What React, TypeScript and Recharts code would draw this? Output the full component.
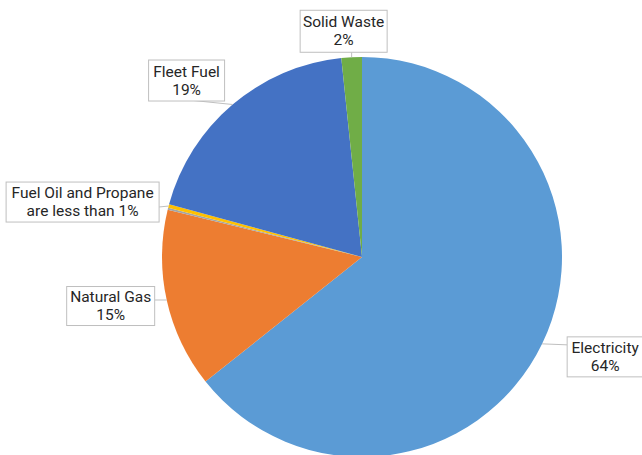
import React from "react";
import { PieChart, Pie, Cell } from "recharts";

const sources = ["Electricity", "Natural Gas", "Fuel Oil", "Propane", "Fleet Fuel", "Solid Waste"];
const shares = [64.3, 14.5, 0.15, 0.3, 19.1, 1.65];
const colors = ["#5B9BD5", "#ED7D31", "#A5A5A5", "#FFC000", "#4472C4", "#70AD47"];
const labelLines: (string[] | null)[] = [
  ["Electricity", "64%"],
  ["Natural Gas", "15%"],
  null,
  ["Fuel Oil and Propane", "are less than 1%"],
  ["Fleet Fuel", "19%"],
  ["Solid Waste", "2%"],
];

const data = sources.map((name, i) => ({ name, value: shares[i] }));

// label box layout: box centre offset from the slice edge point, box size, anchor on box
const labelBoxes: Record<string, { dx: number; dy: number; w: number; h: number; ax: number; ay: number }> = {
  Electricity: { dx: 63, dy: 13, w: 76, h: 40, ax: -38, ay: -12 },
  "Natural Gas": { dx: -56, dy: 6, w: 88, h: 39, ax: 44, ay: -6 },
  Propane: { dx: -86, dy: -4, w: 153, h: 40, ax: 76, ay: 5 },
  "Fleet Fuel": { dx: -46, dy: -24, w: 76, h: 41, ax: 7, ay: 20 },
  "Solid Waste": { dx: -8, dy: -26, w: 87, h: 42, ax: 8, ay: 21 },
};

const RAD = Math.PI / 180;

function renderLabel(props: any) {
  const { cx, cy, midAngle, outerRadius, index, name } = props;
  const lines = labelLines[index];
  const box = labelBoxes[name];
  if (!lines || !box) return null;
  const ex = cx + outerRadius * Math.cos(-midAngle * RAD);
  const ey = cy + outerRadius * Math.sin(-midAngle * RAD);
  const bx = ex + box.dx;
  const by = ey + box.dy;
  return (
    <g key={`lbl-${index}`}>
      <line x1={ex} y1={ey} x2={bx + box.ax} y2={by + box.ay} stroke="#bfbfbf" strokeWidth={1} />
      <rect x={bx - box.w / 2} y={by - box.h / 2} width={box.w} height={box.h} fill="#ffffff" stroke="#bfbfbf" strokeWidth={1} />
      {lines.map((t, k) => (
        <text
          key={k}
          x={bx}
          y={by - 9 + k * 18}
          textAnchor="middle"
          dominantBaseline="central"
          fill="#262626"
          fontSize={15.5}
          fontFamily="Roboto, sans-serif"
        >
          {t}
        </text>
      ))}
    </g>
  );
}

export default function App() {
  return (
    <div style={{ position: "absolute", left: 0, top: 0, width: 642, height: 455, background: "#fff" }}>
      <PieChart width={642} height={455} margin={{ top: 0, right: 0, bottom: 0, left: 0 }}>
        <Pie
          data={data}
          dataKey="value"
          nameKey="name"
          cx={362}
          cy={257}
          outerRadius={200}
          startAngle={90}
          endAngle={-270}
          stroke="none"
          label={renderLabel}
          labelLine={false}
          isAnimationActive={false}
        >
          {data.map((d, i) => (
            <Cell key={d.name} fill={colors[i]} />
          ))}
        </Pie>
      </PieChart>
    </div>
  );
}
